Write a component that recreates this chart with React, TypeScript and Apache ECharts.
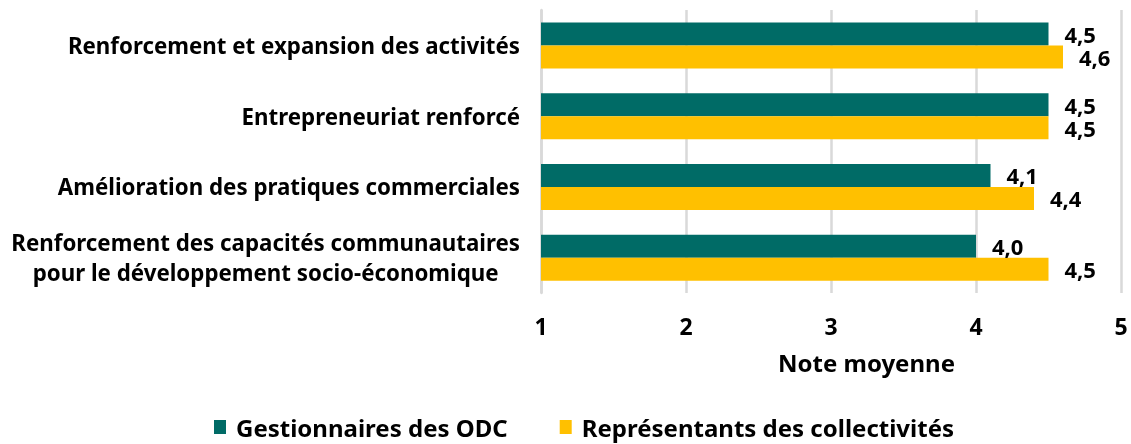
import React, { useEffect, useRef } from "react";
import * as echarts from "echarts";

const categories = [
  "Renforcement et expansion des activités",
  "Entrepreneuriat renforcé",
  "Amélioration des pratiques commerciales",
  "Renforcement des capacités communautaires\npour le développement socio-économique",
];
const seriesNames = ["Gestionnaires des ODC", "Représentants des collectivités"];
const gestionnaires = [4.5, 4.5, 4.1, 4.0];
const representants = [4.6, 4.5, 4.4, 4.5];
const xTicks = [1, 2, 3, 4, 5];
const axisName = "Note moyenne";

const FONT = "'Noto Sans', sans-serif";

export default function App() {
  const ref = useRef<HTMLDivElement>(null);
  useEffect(() => {
    if (!ref.current) return;
    const chart = echarts.init(ref.current, undefined, { renderer: "svg" });
    const label = {
      show: true,
      position: "right" as const,
      distance: 16,
      color: "#000",
      fontFamily: FONT,
      fontWeight: "bold" as const,
      fontSize: 22,
      formatter: (p: any) => p.value.toFixed(1).replace(".", ","),
    };
    chart.setOption({
      animation: false,
      textStyle: { fontFamily: FONT },
      grid: { left: 541, right: 10, top: 10, bottom: 151, containLabel: false },
      xAxis: {
        type: "value",
        min: xTicks[0],
        max: xTicks[xTicks.length - 1],
        interval: 1,
        axisLine: { show: false },
        axisTick: { show: false },
        splitLine: { show: true, lineStyle: { color: "#d9d9d9", width: 2.5 } },
        axisLabel: {
          color: "#000",
          fontFamily: FONT,
          fontWeight: "bold",
          fontSize: 23,
          margin: 21,
        },
      },
      yAxis: {
        type: "category",
        inverse: true,
        data: categories,
        axisLine: { show: true, lineStyle: { color: "#d9d9d9", width: 2.5 } },
        axisTick: { show: false },
        axisLabel: {
          color: "#000",
          fontFamily: FONT,
          fontWeight: "bold",
          fontSize: 22.3,
          margin: 21,
          lineHeight: 30,
          formatter: (v: string) =>
            v
              .split("\n")
              .map((s) => `{c|${s}}`)
              .join("\n"),
          rich: {
            c: {
              align: "center",
              color: "#000",
              fontFamily: FONT,
              fontWeight: "bold",
              fontSize: 22.3,
              lineHeight: 30,
            },
          },
        },
      },
      legend: {
        top: 415,
        left: 214,
        padding: 0,
        icon: "rect",
        itemWidth: 12,
        itemHeight: 14,
        itemGap: 52,
        textStyle: {
          color: "#000",
          fontFamily: FONT,
          fontWeight: "bold",
          fontSize: 24,
          padding: [0, 0, 0, 5],
        },
        data: seriesNames,
      },
      graphic: [
        {
          type: "text",
          left: 778,
          top: 350,
          style: {
            text: axisName,
            fill: "#000",
            font: `bold 24px ${FONT}`,
          },
        },
      ],
      series: [
        {
          name: seriesNames[0],
          type: "bar",
          data: gestionnaires,
          barWidth: 23,
          barGap: "0%",
          itemStyle: { color: "#006B66" },
          label,
        },
        {
          name: seriesNames[1],
          type: "bar",
          data: representants,
          barWidth: 23,
          barGap: "0%",
          itemStyle: { color: "#FFC000" },
          label,
        },
      ],
    });
    return () => chart.dispose();
  }, []);
  return (
    <div
      ref={ref}
      style={{ position: "fixed", left: 0, top: 0, width: 1131, height: 444 }}
    />
  );
}
